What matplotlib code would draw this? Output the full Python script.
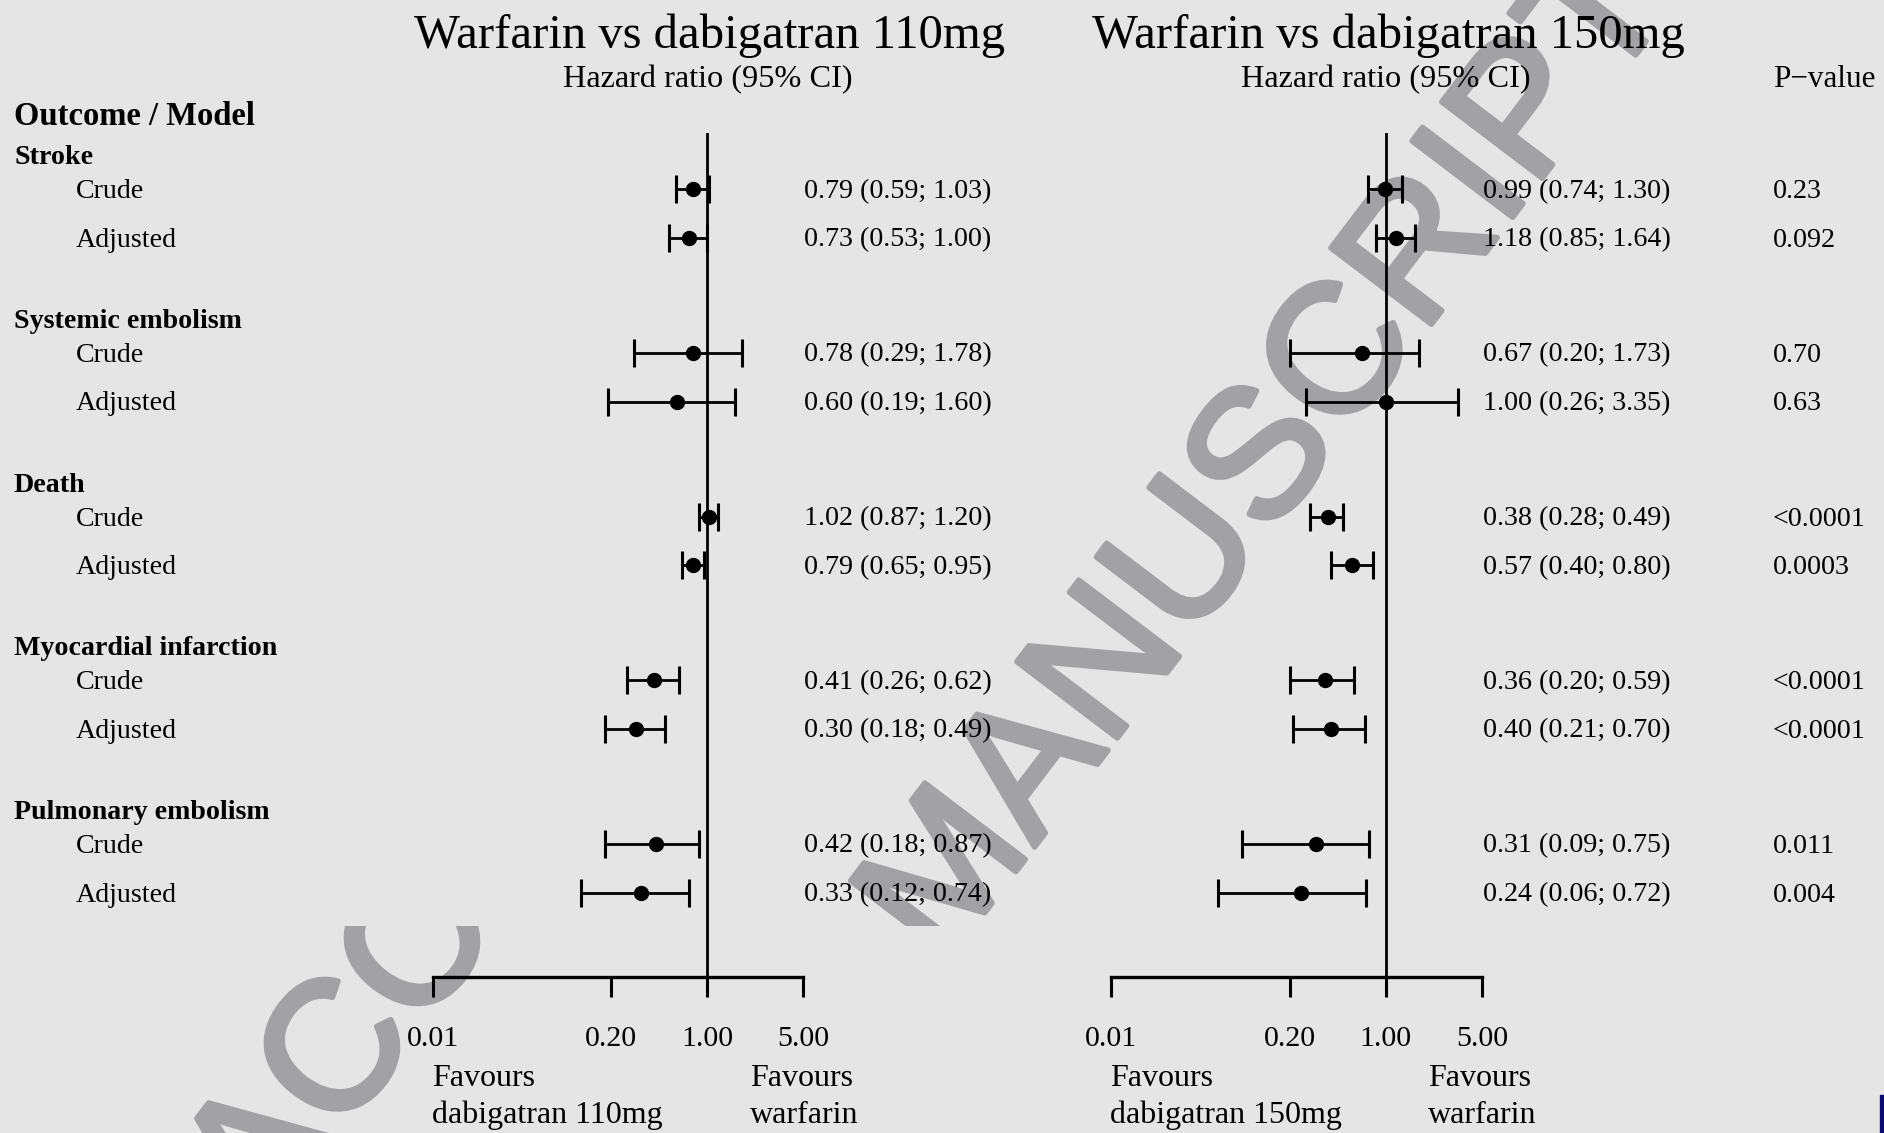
import matplotlib
matplotlib.use("Agg")
import matplotlib.pyplot as plt
import matplotlib.patheffects as pe
from matplotlib.patches import Rectangle
from matplotlib.ticker import NullLocator
import numpy as np

plt.rcParams['font.family'] = ['Liberation Serif', 'DejaVu Serif']

# ---- data -------------------------------------------------------------
outcomes = ["Stroke", "Systemic embolism", "Death",
            "Myocardial infarction", "Pulmonary embolism"]
models = ["Crude", "Adjusted"]

hr_110 = [0.79, 0.73, 0.78, 0.60, 1.02, 0.79, 0.41, 0.30, 0.42, 0.33]
lo_110 = [0.59, 0.53, 0.29, 0.19, 0.87, 0.65, 0.26, 0.18, 0.18, 0.12]
hi_110 = [1.03, 1.00, 1.78, 1.60, 1.20, 0.95, 0.62, 0.49, 0.87, 0.74]

hr_150 = [0.99, 1.18, 0.67, 1.00, 0.38, 0.57, 0.36, 0.40, 0.31, 0.24]
lo_150 = [0.74, 0.85, 0.20, 0.26, 0.28, 0.40, 0.20, 0.21, 0.09, 0.06]
hi_150 = [1.30, 1.64, 1.73, 3.35, 0.49, 0.80, 0.59, 0.70, 0.75, 0.72]

p_values = ["0.23", "0.092", "0.70", "0.63", "<0.0001",
            "0.0003", "<0.0001", "<0.0001", "0.011", "0.004"]

tick_values = [0.01, 0.20, 1.00, 5.00]
tick_labels = ["0.01", "0.20", "1.00", "5.00"]

titles = ["Warfarin vs dabigatran 110mg", "Warfarin vs dabigatran 150mg"]
favour_left = [["Favours", "dabigatran 110mg"], ["Favours", "dabigatran 150mg"]]
favour_right = ["Favours", "warfarin"]

# ---- layout (figure pixels, y measured from the top) -------------------
W, H = 1884, 1133
BG = '#e5e5e5'
INK = 'black'

first_row, group_gap, model_gap = 189.3, 163.7, 48.5
row_y = [first_row + g * group_gap + m * model_gap
         for g in range(len(outcomes)) for m in range(len(models))]
head_y = [first_row + g * group_gap for g in range(len(outcomes))]

plot_top, plot_bottom = 132.7, 976.7
panels_x = [(432.7, 803.3), (1111.0, 1482.0)]
favour_baselines = [1085.7, 1123.3]

fig = plt.figure(figsize=(W / 100, H / 100), dpi=100, facecolor=BG)

canvas = fig.add_axes([0, 0, 1, 1])
canvas.set_xlim(0, W)
canvas.set_ylim(H, 0)
canvas.axis('off')

# ---- watermark ---------------------------------------------------------
WM_GREY = '#a2a2a5'
wm = dict(fontsize=132, color=WM_GREY, family='Liberation Sans',
          rotation=52.8, rotation_mode='anchor', ha='left', va='baseline',
          zorder=0, clip_on=True,
          path_effects=[pe.withStroke(linewidth=4, foreground=WM_GREY)])
split_y = 926
t1 = canvas.text(266, 1236, "ACCEPTED", **wm)
t1.set_clip_path(Rectangle((0, split_y), W, H - split_y,
                           transform=canvas.transData))
t2 = canvas.text(942, 969, "MANUSCRIPT", **wm)
t2.set_clip_path(Rectangle((0, 0), W, split_y, transform=canvas.transData))

# small page marker at the lower right edge
canvas.add_patch(Rectangle((1879.5, 1095), 4.5, 38, color='#0b0b6e',
                           zorder=1, clip_on=False))

# ---- left-hand table ---------------------------------------------------
canvas.text(14, 125, "Outcome / Model", fontsize=23.5, fontweight='bold',
            ha='left', va='baseline', color=INK, zorder=5)
for g, name in enumerate(outcomes):
    canvas.text(14, head_y[g] - 25, name, fontsize=20.2, fontweight='bold',
                ha='left', va='baseline', color=INK, zorder=5)
    for m, model in enumerate(models):
        canvas.text(76, row_y[g * 2 + m] + 9, model, fontsize=20.2,
                    ha='left', va='baseline', color=INK, zorder=5)


def to_canvas(ax, x, y):
    px, py = ax.transData.transform((x, y))
    return px, H - py


def forest(idx, hr, lo, hi):
    x0, x1 = panels_x[idx]
    ax = fig.add_axes([x0 / W, 1 - plot_bottom / H,
                       (x1 - x0) / W, (plot_bottom - plot_top) / H])
    ax.set_facecolor('none')
    ax.set_xscale('log')
    ax.set_xlim(tick_values[0], tick_values[-1])
    ax.set_ylim(plot_bottom, plot_top)

    hr = np.asarray(hr)
    lo = np.asarray(lo)
    hi = np.asarray(hi)
    ax.axvline(1.0, color=INK, lw=2.0, zorder=2)
    ax.errorbar(hr, row_y, xerr=[hr - lo, hi - hr], fmt='o', color=INK,
                ms=10, capsize=10, elinewidth=2.0, capthick=2.2,
                zorder=3, clip_on=False)

    for side in ('top', 'left', 'right'):
        ax.spines[side].set_visible(False)
    ax.spines['bottom'].set_linewidth(2.4)
    ax.set_yticks([])
    ax.set_xticks(tick_values)
    ax.set_xticklabels(tick_labels)
    ax.xaxis.set_minor_locator(NullLocator())
    ax.tick_params(axis='x', direction='out', length=14.4, width=2.2,
                   pad=21, labelsize=21.5, colors=INK)

    ref_x, _ = to_canvas(ax, 1.0, plot_top)
    lo_x, _ = to_canvas(ax, tick_values[0], plot_top)
    hi_x, _ = to_canvas(ax, tick_values[-1], plot_top)

    canvas.text(ref_x + 2, 48.3, titles[idx], fontsize=35, ha='center',
                va='baseline', color=INK, zorder=5)
    canvas.text(ref_x, 87.3, "Hazard ratio (95% CI)", fontsize=23.2,
                ha='center', va='baseline', color=INK, zorder=5)

    for i in range(len(row_y)):
        label = f"{hr[i]:.2f} ({lo[i]:.2f}; {hi[i]:.2f})"
        canvas.text(hi_x + 1, row_y[i] + 8.5, label, fontsize=20.2,
                    ha='left', va='baseline', color=INK, zorder=5)

    for line, yb in zip(favour_left[idx], favour_baselines):
        canvas.text(lo_x - 1, yb, line, fontsize=23, ha='left',
                    va='baseline', color=INK, zorder=5)
    for line, yb in zip(favour_right, favour_baselines):
        canvas.text(ref_x + 42.3, yb, line, fontsize=23, ha='left',
                    va='baseline', color=INK, zorder=5)
    return ax


forest(0, hr_110, lo_110, hi_110)
forest(1, hr_150, lo_150, hi_150)

canvas.text(1772.7, 86.7, "P\u2212value", fontsize=22.4, ha='left',
            va='baseline', color=INK, zorder=5)
for i, p in enumerate(p_values):
    canvas.text(1772.7, row_y[i] + 9, p, fontsize=20.2, ha='left',
                va='baseline', color=INK, zorder=5)

fig.savefig('out.png', dpi=100, facecolor=BG)
